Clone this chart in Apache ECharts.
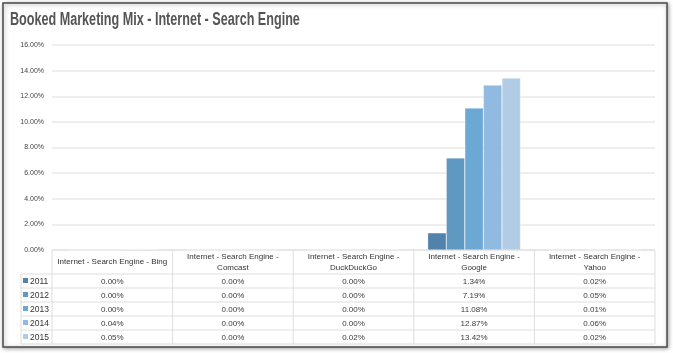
<!DOCTYPE html>
<html>
<head>
<meta charset="utf-8" />
<title>Booked Marketing Mix</title>
<style type="text/css">
html,body{margin:0;padding:0;background:#fff}
#chart{width:673px;height:353px}
</style>
<script src="https://cdn.jsdelivr.net/npm/echarts@6/dist/echarts.min.js"></script>
</head>
<body>
<div id="chart"></div>
<script type="text/javascript">
var categories = ['Bing', 'Comcast', 'DuckDuckGo', 'Google', 'Yahoo'];
var headers = ['Internet - Search Engine - Bing', 'Internet - Search Engine -\nComcast', 'Internet - Search Engine -\nDuckDuckGo', 'Internet - Search Engine -\nGoogle', 'Internet - Search Engine -\nYahoo'];
var years = ['2011', '2012', '2013', '2014', '2015'];
var v2011 = [0.00, 0.00, 0.00, 1.34, 0.02];
var v2012 = [0.00, 0.00, 0.00, 7.19, 0.05];
var v2013 = [0.00, 0.00, 0.00, 11.08, 0.01];
var v2014 = [0.04, 0.00, 0.00, 12.87, 0.06];
var v2015 = [0.05, 0.00, 0.02, 13.42, 0.02];
var values = [v2011, v2012, v2013, v2014, v2015];
var colors = ['#5182a9', '#5f98c1', '#6ba8d4', '#90bae0', '#b3cce6'];

var font = "'Liberation Sans', Arial, sans-serif";
var chart = echarts.init(document.getElementById('chart'));

var series = years.map(function(y, i){
	return {
		name: y,
		type: 'bar',
		data: values[i],
		barGap: '0%',
		barCategoryGap: '23%',
		itemStyle: {color: colors[i], borderColor: 'rgba(255,255,255,0.6)', borderWidth: 0.5},
		silent: true
	};
});

chart.setOption({
	animation: false,
	color: colors,
	grid: {left: 52, right: 18, top: 45, bottom: 103},
	xAxis: {
		type: 'category',
		data: categories,
		axisLine: {show: false},
		axisTick: {show: false},
		axisLabel: {show: false}
	},
	yAxis: {
		type: 'value',
		min: 0,
		max: 16,
		interval: 2,
		axisLine: {show: false},
		axisTick: {show: false},
		axisLabel: {
			color: '#444',
			fontSize: 7,
			fontFamily: font,
			margin: 8,
			formatter: function(v){ return v.toFixed(2) + '%'; }
		},
		splitLine: {lineStyle: {color: '#e8e8e8', width: 1.5}}
	},
	series: series
});

// table under the plot, built from the axis positions
function drawTable(){
	var g = [];
	var c0 = chart.convertToPixel({gridIndex: 0}, [0, 0]);
	var c1 = chart.convertToPixel({gridIndex: 0}, [1, 0]);
	var colW = c1[0] - c0[0];
	var left = c0[0] - colW / 2;
	var right = left + colW * categories.length;
	var top = c0[1];
	var headBottom = top + 24;
	var rowH = 14;
	var bottom = headBottom + rowH * years.length;
	var legLeft = 21;
	var lineStyle = {stroke: '#dedede', lineWidth: 1};

	// frame
	g.push({type: 'rect', shape: {x: 3, y: 3, width: 664, height: 344},
		style: {fill: '#fff', stroke: '#4a4a4a', lineWidth: 1.5, shadowBlur: 4, shadowColor: 'rgba(0,0,0,0.35)', shadowOffsetX: 1, shadowOffsetY: 1}, z: -10});
	g.push({type: 'text', x: 10, y: 11, scaleX: 0.7,
		style: {text: 'Booked Marketing Mix - Internet - Search Engine', fill: '#555', font: 'bold 18px ' + font}});

	// horizontal lines
	g.push({type: 'line', shape: {x1: left, y1: top, x2: right, y2: top}, style: lineStyle});
	g.push({type: 'line', shape: {x1: legLeft, y1: headBottom, x2: right, y2: headBottom}, style: lineStyle});
	for (var r = 1; r <= years.length; r++) {
		var y = headBottom + rowH * r;
		g.push({type: 'line', shape: {x1: legLeft, y1: y, x2: right, y2: y}, style: lineStyle});
	}
	// vertical lines
	g.push({type: 'line', shape: {x1: legLeft, y1: headBottom, x2: legLeft, y2: bottom}, style: lineStyle});
	for (var c = 0; c <= categories.length; c++) {
		var x = left + colW * c;
		g.push({type: 'line', shape: {x1: x, y1: top, x2: x, y2: bottom}, style: lineStyle});
	}
	// headers and values
	categories.forEach(function(cat, i){
		var cx = chart.convertToPixel({gridIndex: 0}, [i, 0])[0];
		g.push({type: 'text', x: cx, y: (top + headBottom) / 2,
			style: {text: headers[i], fill: '#333', font: '8px ' + font, align: 'center', verticalAlign: 'middle', lineHeight: 11}});
		years.forEach(function(yr, j){
			g.push({type: 'text', x: cx, y: headBottom + rowH * j + rowH / 2 + 1,
				style: {text: values[j][i].toFixed(2) + '%', fill: '#3a3a3a', font: '8px ' + font, align: 'center', verticalAlign: 'middle'}});
		});
	});
	// legend keys
	years.forEach(function(yr, j){
		var yc = headBottom + rowH * j + rowH / 2;
		g.push({type: 'rect', shape: {x: 23, y: yc - 3, width: 5, height: 5}, style: {fill: colors[j]}});
		g.push({type: 'text', x: 30, y: yc + 0.5,
			style: {text: yr, fill: '#333', font: '8.5px ' + font, verticalAlign: 'middle'}});
	});
	chart.setOption({graphic: g});
}
drawTable();
</script>
</body>
</html>
